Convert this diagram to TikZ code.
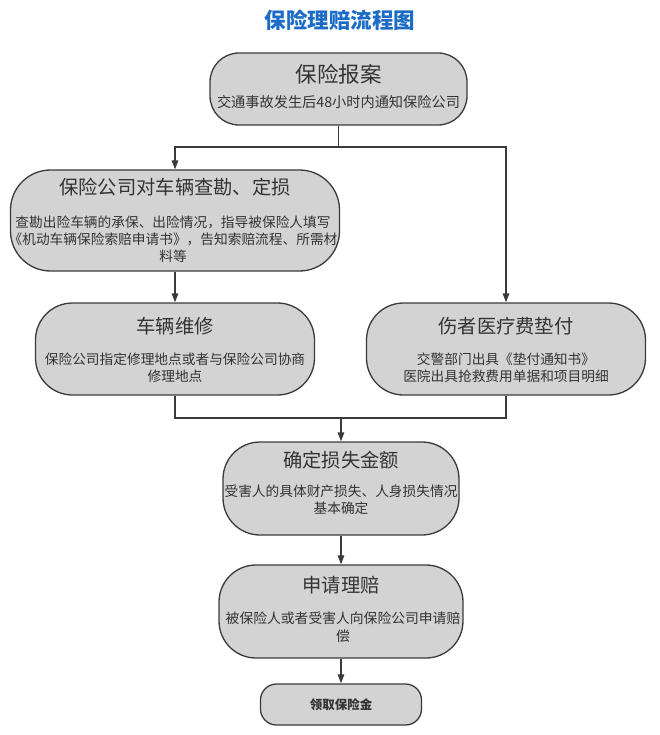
\documentclass[tikz,border=0pt]{standalone}
\usepackage{fontspec}
\setmainfont{Noto Sans CJK SC}
\usetikzlibrary{arrows.meta}
\definecolor{boxfill}{HTML}{D3D3D3}
\definecolor{boxline}{HTML}{3A3A3A}
\definecolor{txt}{HTML}{333333}
\definecolor{titleblue}{HTML}{1C6CC6}
\tikzset{
  stadium/.style={draw=boxline, fill=boxfill, line width=1.3pt, rectangle, inner sep=0pt},
  headtxt/.style={text=txt, font=\fontsize{19.3}{22}\selectfont, inner sep=0pt, anchor=center},
  bodytxt/.style={text=txt, font=\fontsize{13.7}{16.8}\selectfont, inner sep=0pt, align=center, anchor=center},
  arr/.style={draw=boxline, line width=1.3pt, -{Triangle[length=9pt,width=6.5pt]}},
  ln/.style={draw=boxline, line width=1.3pt}
}
\begin{document}
\begin{tikzpicture}[x=1pt,y=-1pt]
\useasboundingbox (0,0) rectangle (660,735);
% title
\node[text=titleblue, font=\fontsize{21.5}{24}\selectfont\bfseries, inner sep=0pt] (title) at (340,20) {保险理赔流程图};
% boxes
\node[stadium, rounded corners=29pt, minimum width=257pt, minimum height=72pt] (b1) at (338.5,89) {};
\node[headtxt, font=\fontsize{21.5}{24}\selectfont] (b1h) at (338.5,74) {保险报案};
\node[bodytxt, font=\fontsize{14.2}{16.5}\selectfont] (b1t) at (338.5,102) {交通事故发生后48小时内通知保险公司};

\node[stadium, rounded corners=40pt, minimum width=329pt, minimum height=101pt] (b2) at (175,220.5) {};
\node[headtxt] (b2h) at (175,187) {保险公司对车辆查勘、定损};
\node[bodytxt] (b2t) at (173,239) {查勘出险车辆的承保、出险情况，指导被保险人填写\\《机动车辆保险索赔申请书》，告知索赔流程、所需材\\料等};

\node[stadium, rounded corners=37pt, minimum width=279pt, minimum height=92pt] (b3) at (175,349) {};
\node[headtxt] (b3h) at (175,326) {车辆维修};
\node[bodytxt] (b3t) at (175,368) {保险公司指定修理地点或者与保险公司协商\\修理地点};

\node[stadium, rounded corners=37pt, minimum width=279pt, minimum height=92pt] (b4) at (506,349) {};
\node[headtxt] (b4h) at (506,326) {伤者医疗费垫付};
\node[bodytxt] (b4t) at (506,368) {交警部门出具《垫付通知书》\\医院出具抢救费用单据和项目明细};

\node[stadium, rounded corners=37pt, minimum width=236pt, minimum height=93pt] (b5) at (341,488.5) {};
\node[headtxt] (b5h) at (341,460) {确定损失金额};
\node[bodytxt] (b5t) at (341,500) {受害人的具体财产损失、人身损失情况\\基本确定};

\node[stadium, rounded corners=37pt, minimum width=244pt, minimum height=93pt] (b6) at (341,611.5) {};
\node[headtxt] (b6h) at (341,585) {申请理赔};
\node[bodytxt, font=\fontsize{13.8}{18}\selectfont] (b6t) at (343,627) {被保险人或者受害人向保险公司申请赔\\偿};

\node[stadium, rounded corners=16pt, minimum width=161pt, minimum height=41pt] (b7) at (341,704.5) {};
\node[text=txt, font=\fontsize{12.5}{14}\selectfont\bfseries, inner sep=0pt] (b7h) at (341,704.5) {领取保险金};

% connectors
\coordinate (split) at (338.5,147);
\coordinate (merge) at (341,418);
\draw[ln] (b1.south) -- (split);
\draw[arr] (split) -| (b2.north);
\draw[arr] (split) -| (b4.north);
\draw[arr] (b2.south) -- (b3.north);
\draw[ln] (b3.south) |- (merge);
\draw[ln] (b4.south) |- (merge);
\draw[arr] (merge) -- (b5.north);
\draw[arr] (b5.south) -- (b6.north);
\draw[arr] (b6.south) -- (b7.north);
\end{tikzpicture}
\end{document}
